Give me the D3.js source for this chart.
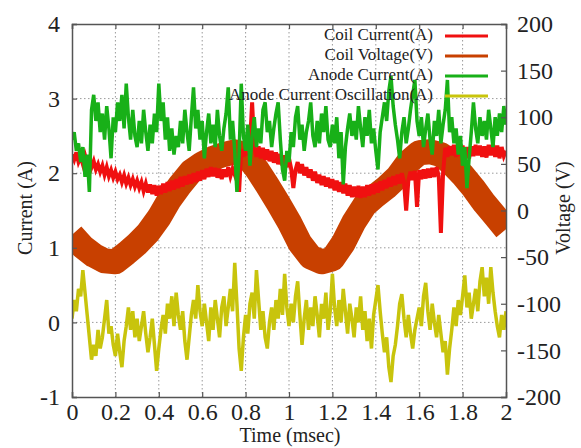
<!DOCTYPE html>
<html>
<head>
<meta charset="utf-8">
<script src="https://cdn.jsdelivr.net/npm/d3@7"></script>
<style>
  body { margin: 0; background: #fff; }
</style>
</head>
<body>
<div class="chart"></div>
<script>
// ---- data ----
var xTicks = [0, 0.2, 0.4, 0.6, 0.8, 1, 1.2, 1.4, 1.6, 1.8, 2];
var currentTicks = [-1, 0, 1, 2, 3, 4];
var voltageTicks = [-200, -150, -100, -50, 0, 50, 100, 150, 200];
var seriesNames = ["Coil Current(A)", "Coil Voltage(V)", "Anode Current(A)", "Anode Current Oscillation(A)"];

// sample times (msec) for the noisy traces: every 0.01
var timeFine = d3.range(0, 201).map(i => i / 100);
// sample times for the voltage band: every 0.05
var timeCoarse = d3.range(0, 41).map(i => i / 20);

var coilCurrent = [
  2.25, 2.18, 2.28, 2.15, 2.22, 2.12, 2.24, 2.14, 2.20, 2.08,
  2.16, 2.05, 2.12, 2.02, 2.10, 1.98, 2.08, 1.96, 2.04, 1.94,
  2.02, 1.92, 1.98, 1.88, 1.97, 1.86, 1.94, 1.84, 1.92, 1.82,
  1.90, 1.80, 1.88, 1.76, 1.86, 1.74, 1.85, 1.72, 1.84, 1.70,
  1.83, 1.72, 1.86, 1.74, 1.88, 1.76, 1.90, 1.78, 1.92, 1.80,
  1.95, 1.82, 1.96, 1.85, 1.98, 1.86, 2.00, 1.88, 2.02, 1.90,
  2.04, 1.92, 2.06, 1.95, 2.08, 1.96, 2.07, 1.94, 2.06, 1.92,
  2.05, 1.95, 2.08, 1.96, 2.06, 1.98, 2.10, 1.75, 2.32, 2.22,
  2.36, 2.24, 2.38, 2.95, 2.34, 2.22, 2.36, 2.20, 2.34, 2.18,
  2.32, 2.16, 2.30, 2.14, 2.28, 2.12, 2.26, 2.10, 2.24, 2.08,
  2.20, 2.06, 1.80, 2.04, 2.15, 2.00, 2.12, 1.97, 2.08, 1.94,
  2.05, 1.90, 2.02, 1.87, 1.98, 1.84, 1.96, 1.82, 1.94, 1.80,
  1.92, 1.77, 1.90, 1.75, 1.88, 1.73, 1.86, 1.70, 1.84, 1.68,
  1.82, 1.68, 1.83, 1.67, 1.82, 1.68, 1.84, 1.70, 1.85, 1.72,
  1.87, 1.74, 1.89, 1.77, 1.91, 1.80, 1.94, 1.82, 1.96, 1.84,
  1.98, 1.86, 2.00, 1.88, 1.50, 1.90, 2.02, 1.91, 2.03, 1.55,
  2.04, 1.92, 2.05, 1.93, 2.06, 1.94, 2.07, 1.95, 2.08, 1.96,
  1.20, 2.00, 2.34, 2.22, 2.36, 2.24, 2.38, 2.22, 2.36, 2.24,
  2.37, 2.22, 2.35, 2.20, 2.36, 2.23, 2.38, 2.24, 2.37, 2.22,
  2.36, 2.21, 2.38, 2.24, 2.39, 2.22, 2.37, 2.20, 2.35, 2.23,
  2.30
];

var coilVoltage = [
  -26, -39, -48, -54, -55, -46, -36, -24, -8, 12,
  28, 42, 50, 56, 60, 63, 60, 45, 27, 8,
  -12, -35, -50, -55, -52, -35, -12, 6, 16, 25,
  36, 52, 62, 63, 60, 50, 38, 24, 8, -6,
  -20
];

var anodeCurrent = [
  2.45, 2.55, 2.30, 2.40, 2.15, 2.35, 1.95, 2.25, 1.75, 2.85,
  3.05, 2.70, 2.95, 2.55, 2.80, 2.45, 2.90, 2.60, 2.20, 2.75,
  2.55, 2.95, 2.70, 3.05, 2.60, 3.20, 2.75, 2.45, 2.85, 2.50,
  2.35, 2.70, 2.40, 2.85, 2.55, 2.30, 2.65, 2.40, 2.80, 2.55,
  3.20, 2.70, 2.95, 2.45, 2.75, 2.30, 2.60, 2.25, 2.50, 2.35,
  2.70, 2.40, 2.85, 2.55, 2.30, 2.75, 3.15, 2.60, 2.85, 2.45,
  2.70, 2.20, 2.55, 2.80, 2.40, 2.65, 2.35, 2.85, 2.50, 2.30,
  2.60, 2.80, 3.15, 2.45, 2.70, 2.30, 1.75, 2.25, 3.20, 2.50,
  2.30, 2.65, 2.10, 2.50, 2.75, 2.35, 2.60, 2.40, 2.85, 2.95,
  2.55, 2.70, 2.35, 2.60, 2.80, 2.95, 2.45, 2.05, 1.90, 2.30,
  2.15, 2.55, 2.35, 2.75, 2.90, 2.45, 2.65, 2.30, 2.55, 2.70,
  2.95, 2.50, 2.35, 2.70, 2.40, 2.80, 2.55, 2.90, 2.45, 2.35,
  2.65, 2.40, 2.75, 2.20, 2.55, 1.85, 2.35, 2.60, 2.80, 2.50,
  2.70, 2.45, 2.90, 2.60, 2.35, 2.75, 2.50, 2.85, 2.40, 2.60,
  2.30, 2.05, 2.55, 2.75, 2.95, 2.70, 3.10, 3.30, 2.90, 2.65,
  2.45, 2.20, 2.55, 2.75, 2.40, 2.60, 2.85, 3.05, 3.25, 2.70,
  2.50, 2.75, 2.35, 2.60, 2.80, 2.45, 2.25, 2.70, 2.50, 2.85,
  2.40, 2.65, 2.85, 3.25, 2.55, 2.75, 2.40, 2.60, 2.25, 2.50,
  2.10, 2.35, 1.80, 2.20, 2.55, 2.95, 2.60, 2.40, 2.75, 2.50,
  2.70, 2.45, 2.85, 2.60, 2.35, 2.75, 2.50, 2.80, 2.55, 2.90,
  2.65
];

var oscCurrent = [
  0.05, 0.30, 0.15, 0.45, 0.35, 0.70, 0.40, 0.10, -0.20, -0.50,
  -0.30, -0.45, -0.10, -0.35, -0.20, 0.05, 0.30, -0.15, -0.05, -0.30,
  -0.45, -0.15, -0.40, -0.60, -0.25, -0.05, 0.20, -0.10, 0.15, -0.20,
  0.05, -0.25, -0.05, 0.15, -0.15, -0.40, -0.20, 0.05, -0.30, -0.65,
  -0.35, -0.10, 0.10, -0.15, 0.25, 0.05, 0.35, -0.05, 0.40, 0.10,
  -0.10, 0.15, -0.25, -0.50, -0.20, 0.10, 0.30, 0.05, 0.50, 0.15,
  -0.05, 0.25, 0.00, -0.25, 0.20, -0.10, 0.30, 0.05, -0.20, 0.20,
  0.35, -0.05, 0.20, 0.45, 0.15, 0.80, 0.25, -0.35, -0.65, -0.20,
  0.10, -0.15, 0.25, 0.40, 0.05, 0.70, 0.30, -0.10, 0.15, -0.20,
  -0.35, 0.00, 0.20, -0.10, 0.30, 0.05, 0.45, 0.10, 0.65, 0.20,
  -0.05, 0.25, 0.00, 0.35, 0.55, 0.10, -0.30, 0.05, 0.30, -0.10,
  0.20, -0.05, 0.35, 0.10, -0.20, 0.25, 0.05, 0.40, -0.10, 0.15,
  0.65, 0.20, -0.05, 0.30, 0.00, 0.45, 0.15, -0.15, 0.25, 0.05,
  -0.20, 0.20, 0.00, 0.35, -0.10, 0.15, -0.25, 0.05, -0.35, 0.10,
  0.30, 0.50, 0.15, -0.15, -0.40, -0.20, -0.60, -0.80, -0.45, -0.30,
  -0.05, 0.25, 0.38, 0.05, -0.20, 0.10, -0.15, -0.35, -0.10, 0.05,
  0.20, -0.05, 0.35, 0.53, 0.15, -0.10, 0.25, 0.00, -0.20, 0.10,
  -0.15, -0.40, -0.25, -0.70, -0.35, -0.10, 0.20, -0.05, 0.30, 0.10,
  0.35, 0.63, 0.20, 0.40, 0.05, 0.25, 0.45, 0.15, 0.55, 0.74,
  0.35, 0.60, 0.25, 0.74, 0.40, 0.15, -0.05, -0.20, 0.10, -0.10,
  0.15
];

var colors = ["#f01010", "#c84000", "#18b018", "#c8c40c"];
var FONT = "'Liberation Serif', 'Times New Roman', serif";

// ---- layout ----
var svgWidth = 581;
var svgHeight = 448;
var margin = { top: 24, right: 75, bottom: 51, left: 72 };
var width = svgWidth - margin.left - margin.right;
var height = svgHeight - margin.top - margin.bottom;

var svg = d3.select(".chart")
    .append("svg")
    .attr("width", svgWidth)
    .attr("height", svgHeight)
    .style("font-family", FONT);

var chartGroup = svg.append("g")
    .attr("transform", `translate(${margin.left}, ${margin.top})`);

var xScale = d3.scaleLinear().domain([0, 2]).range([0, width]);
var yCurrent = d3.scaleLinear().domain([-1, 4]).range([height, 0]);
var yVoltage = d3.scaleLinear().domain([-200, 200]).range([height, 0]);

// dotted grid
chartGroup.append("g")
    .selectAll("line")
    .data(xTicks.slice(1, -1))
    .join("line")
    .attr("x1", d => xScale(d)).attr("x2", d => xScale(d))
    .attr("y1", 0).attr("y2", height)
    .attr("stroke", "#9a9a9a")
    .attr("stroke-width", 1)
    .attr("stroke-dasharray", "1.5,2.5");

chartGroup.append("g")
    .selectAll("line")
    .data(currentTicks.slice(1, -1))
    .join("line")
    .attr("x1", 0).attr("x2", width)
    .attr("y1", d => yCurrent(d)).attr("y2", d => yCurrent(d))
    .attr("stroke", "#9a9a9a")
    .attr("stroke-width", 1)
    .attr("stroke-dasharray", "1.5,2.5");

// clip for the traces
svg.append("defs").append("clipPath")
    .attr("id", "plotClip")
    .append("rect")
    .attr("width", width)
    .attr("height", height);

var traces = chartGroup.append("g").attr("clip-path", "url(#plotClip)");

var lineCurrent = d3.line()
    .x((d, i) => xScale(timeFine[i]))
    .y(d => yCurrent(d));

var lineVoltage = d3.line()
    .x((d, i) => xScale(timeCoarse[i]))
    .y(d => yVoltage(d));

// voltage drawn first as a thick noisy band
traces.append("path")
    .datum(coilVoltage)
    .attr("d", lineVoltage)
    .attr("fill", "none")
    .attr("stroke", colors[1])
    .attr("stroke-width", 25)
    .attr("stroke-linejoin", "round");

traces.append("path")
    .datum(coilCurrent)
    .attr("d", lineCurrent)
    .attr("fill", "none")
    .attr("stroke", colors[0])
    .attr("stroke-width", 4);

traces.append("path")
    .datum(anodeCurrent)
    .attr("d", lineCurrent)
    .attr("fill", "none")
    .attr("stroke", colors[2])
    .attr("stroke-width", 3.5);

traces.append("path")
    .datum(oscCurrent)
    .attr("d", lineCurrent)
    .attr("fill", "none")
    .attr("stroke", colors[3])
    .attr("stroke-width", 3.5);

// ---- axes (ticks point inward), plain hyphen for negatives ----
var leftAxis = d3.axisLeft(yCurrent).tickValues(currentTicks).tickSize(-5).tickPadding(12).tickFormat(d => String(d));
var rightAxis = d3.axisRight(yVoltage).tickValues(voltageTicks).tickSize(-5).tickPadding(11).tickFormat(d => String(d));
var bottomAxis = d3.axisBottom(xScale).tickValues(xTicks).tickSize(-5).tickPadding(6).tickFormat(d => String(d));
var topAxis = d3.axisTop(xScale).tickValues(xTicks).tickSize(-5).tickFormat("");

function styleAxis(g) {
  g.attr("font-family", null);
  g.select(".domain").attr("stroke", "#555").attr("stroke-width", 1.5);
  g.selectAll(".tick line").attr("stroke", "#555").attr("stroke-width", 1.2);
  g.selectAll(".tick text")
    .style("font-family", FONT)
    .attr("font-size", 24)
    .attr("fill", "#222");
}

chartGroup.append("g").call(leftAxis).call(styleAxis);
chartGroup.append("g").attr("transform", `translate(${width},0)`).call(rightAxis).call(styleAxis);
chartGroup.append("g").attr("transform", `translate(0,${height})`).call(bottomAxis).call(styleAxis);
chartGroup.append("g").call(topAxis).call(styleAxis);

// axis titles
chartGroup.append("text")
    .attr("transform", "rotate(-90)")
    .attr("x", -(208 - margin.top))
    .attr("y", -margin.left + 32)
    .attr("text-anchor", "middle")
    .attr("font-size", 20)
    .attr("fill", "#222")
    .text("Current (A)");

chartGroup.append("text")
    .attr("transform", "rotate(-90)")
    .attr("x", -(208 - margin.top))
    .attr("y", width + 64)
    .attr("text-anchor", "middle")
    .attr("font-size", 20)
    .attr("fill", "#222")
    .text("Voltage (V)");

chartGroup.append("text")
    .attr("x", width / 2 + 1)
    .attr("y", height + 45)
    .attr("text-anchor", "middle")
    .attr("font-size", 20)
    .attr("fill", "#222")
    .text("Time (msec)");

// ---- legend ----
var legend = chartGroup.append("g")
    .attr("transform", `translate(${361}, ${16})`);

var legendRows = legend.selectAll("g")
    .data(seriesNames)
    .join("g")
    .attr("transform", (d, i) => `translate(0, ${i * 20})`);

legendRows.append("text")
    .attr("x", 0)
    .attr("y", 0)
    .attr("text-anchor", "end")
    .attr("font-size", 17)
    .attr("fill", "#222")
    .text(d => d);

legendRows.append("line")
    .attr("x1", 12).attr("x2", 55)
    .attr("y1", -4).attr("y2", -4)
    .attr("stroke", (d, i) => colors[i])
    .attr("stroke-width", 3);
</script>
</body>
</html>
